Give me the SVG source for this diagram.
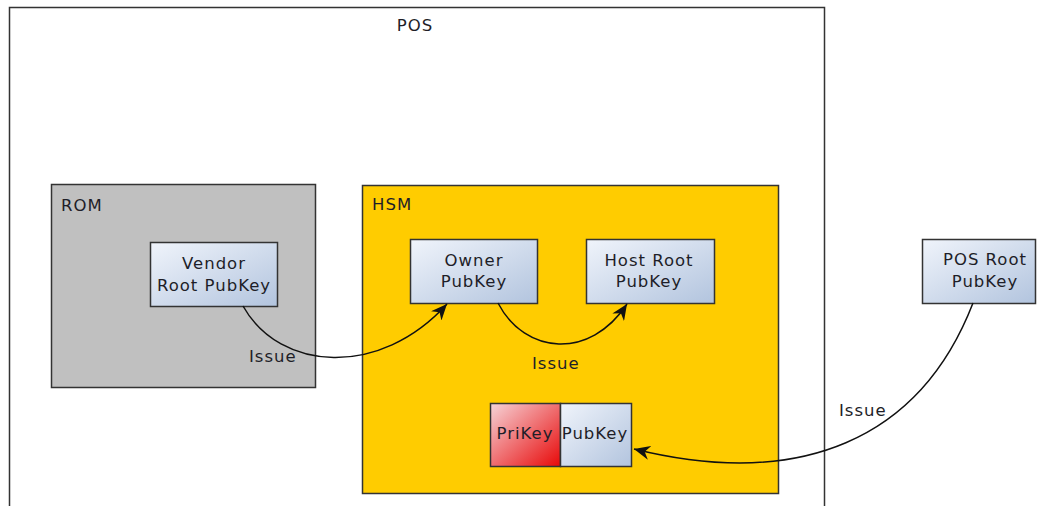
<svg xmlns="http://www.w3.org/2000/svg" width="1041" height="506" viewBox="0 0 1041 506">
<defs>
<linearGradient id="gBlue" x1="0" y1="0" x2="1" y2="1">
<stop offset="0" stop-color="#f0f4fb"/>
<stop offset="1" stop-color="#b2c4de"/>
</linearGradient>
<linearGradient id="gRed" x1="0" y1="0" x2="1" y2="1">
<stop offset="0" stop-color="#f6d4d8"/>
<stop offset="1" stop-color="#e80808"/>
</linearGradient>
<marker id="arr" markerUnits="userSpaceOnUse" markerWidth="18" markerHeight="14" refX="16" refY="7" orient="auto">
<path d="M0,0 L16,7 L0,14 L5,7 z" fill="#111"/>
</marker>
<style>
text{font-family:"DejaVu Sans","Liberation Sans",sans-serif;font-size:16.5px;fill:#1e1e28;letter-spacing:1px}
.c{text-anchor:middle}
.box{stroke:#333;stroke-width:1.5}
.key{fill:url(#gBlue);stroke:#333;stroke-width:1.5}
.conn{fill:none;stroke:#111;stroke-width:1.5}
</style>
</defs>
<rect width="1041" height="506" fill="#fff"/>
<g id="pos">
<rect class="box" x="9.5" y="7.5" width="815" height="520" fill="#fff"/>
<text class="c" x="415" y="31">POS</text>
</g>
<g id="rom">
<rect class="box" x="51.5" y="184.5" width="264" height="203" fill="#c0c0c0"/>
<text x="61" y="211">ROM</text>
</g>
<g id="hsm">
<rect class="box" x="362.5" y="185.5" width="416" height="308" fill="#ffcc00"/>
<text x="372" y="210">HSM</text>
</g>
<g id="vendor">
<rect class="key" x="150.5" y="242.5" width="127" height="64"/>
<text class="c" x="214" y="269">Vendor</text>
<text class="c" x="214" y="291">Root PubKey</text>
</g>
<g id="owner">
<rect class="key" x="410.5" y="239.5" width="127" height="64"/>
<text class="c" x="474" y="266">Owner</text>
<text class="c" x="474" y="287">PubKey</text>
</g>
<g id="hostroot">
<rect class="key" x="586.5" y="239.5" width="128" height="64"/>
<text class="c" x="649" y="266">Host Root</text>
<text class="c" x="649" y="287">PubKey</text>
</g>
<g id="posroot">
<rect class="key" x="922.5" y="239.5" width="113" height="64"/>
<text class="c" x="985" y="265">POS Root</text>
<text class="c" x="985" y="287">PubKey</text>
</g>
<g id="keypair">
<rect x="490.5" y="403.5" width="70" height="63" fill="url(#gRed)" stroke="#333" stroke-width="1.5"/>
<rect class="key" x="560.5" y="403.5" width="71" height="63"/>
<text class="c" x="525" y="439">PriKey</text>
<text class="c" x="595" y="439">PubKey</text>
</g>
<g id="connectors">
<path class="conn" d="M243,306 C280,372 380,378 447,304" marker-end="url(#arr)"/>
<path class="conn" d="M498,303 C525,355 590,360 627,304" marker-end="url(#arr)"/>
<path class="conn" d="M973,303 C920,440 800,490 634,449" marker-end="url(#arr)"/>
<text x="249" y="362">Issue</text>
<text x="532" y="369">Issue</text>
<text x="839" y="416">Issue</text>
</g>
</svg>
